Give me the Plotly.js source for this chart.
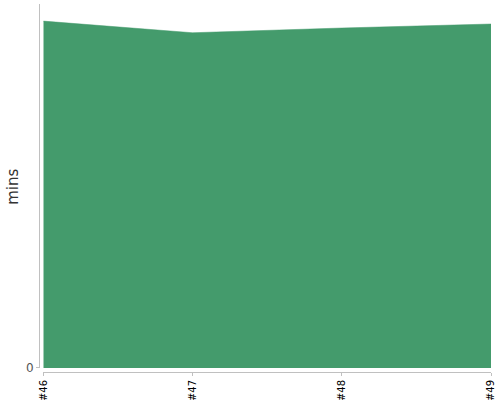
<!DOCTYPE html>
<html>
<head>
<meta charset="utf-8">
<script src="https://cdn.plot.ly/plotly-3.0.1.min.js"></script>
<style>html,body{margin:0;padding:0;background:#fff}#chart{width:500px;height:400px}</style>
</head>
<body>
<div id="chart"></div>
<script>
var categories = ["#46", "#47", "#48", "#49"];
var minsValues = [95.3, 92.1, 93.4, 94.5];
var yTickValues = [0];
var yTickLabels = ["0"];
var yTitle = "mins";

var trace = {
  type: "scatter",
  mode: "lines",
  x: categories,
  y: minsValues,
  fill: "tozeroy",
  fillcolor: "rgb(68,155,108)",
  line: {color: "rgb(68,155,108)", width: 0.5, shape: "linear"},
  hoverinfo: "x+y"
};

var layout = {
  width: 500,
  height: 400,
  margin: {l: 39, r: 9, t: 4, b: 28},
  paper_bgcolor: "#fff",
  plot_bgcolor: "#fff",
  showlegend: false,
  font: {family: "DejaVu Sans", color: "#333"},
  xaxis: {
    type: "category",
    range: [0, 3],
    domain: [0.0095, 1],
    anchor: "free",
    position: 0,
    showline: true,
    linecolor: "#c0c0c0",
    linewidth: 1,
    showgrid: false,
    zeroline: false,
    ticks: "outside",
    ticklen: 3,
    tickcolor: "#c0c0c0",
    tickangle: -90,
    tickfont: {family: "DejaVu Sans", size: 10, color: "#000"},
    fixedrange: true
  },
  yaxis: {
    range: [0, 100],
    domain: [0.0109, 1],
    anchor: "free",
    position: 0,
    showline: true,
    linecolor: "#c0c0c0",
    linewidth: 1,
    showgrid: false,
    zeroline: false,
    ticks: "outside",
    ticklen: 3,
    tickcolor: "#c0c0c0",
    tickvals: yTickValues,
    ticktext: yTickLabels,
    tickfont: {family: "DejaVu Sans", size: 12, color: "#555"},
    automargin: false,
    fixedrange: true
  },
  annotations: [{
    text: yTitle,
    xref: "paper",
    yref: "paper",
    x: -0.058,
    y: 0.5027,
    xanchor: "center",
    yanchor: "middle",
    textangle: -90,
    showarrow: false,
    font: {family: "DejaVu Sans", size: 15, color: "#333"}
  }]
};

Plotly.newPlot("chart", [trace], layout, {displayModeBar: false, staticPlot: true});
</script>
</body>
</html>
